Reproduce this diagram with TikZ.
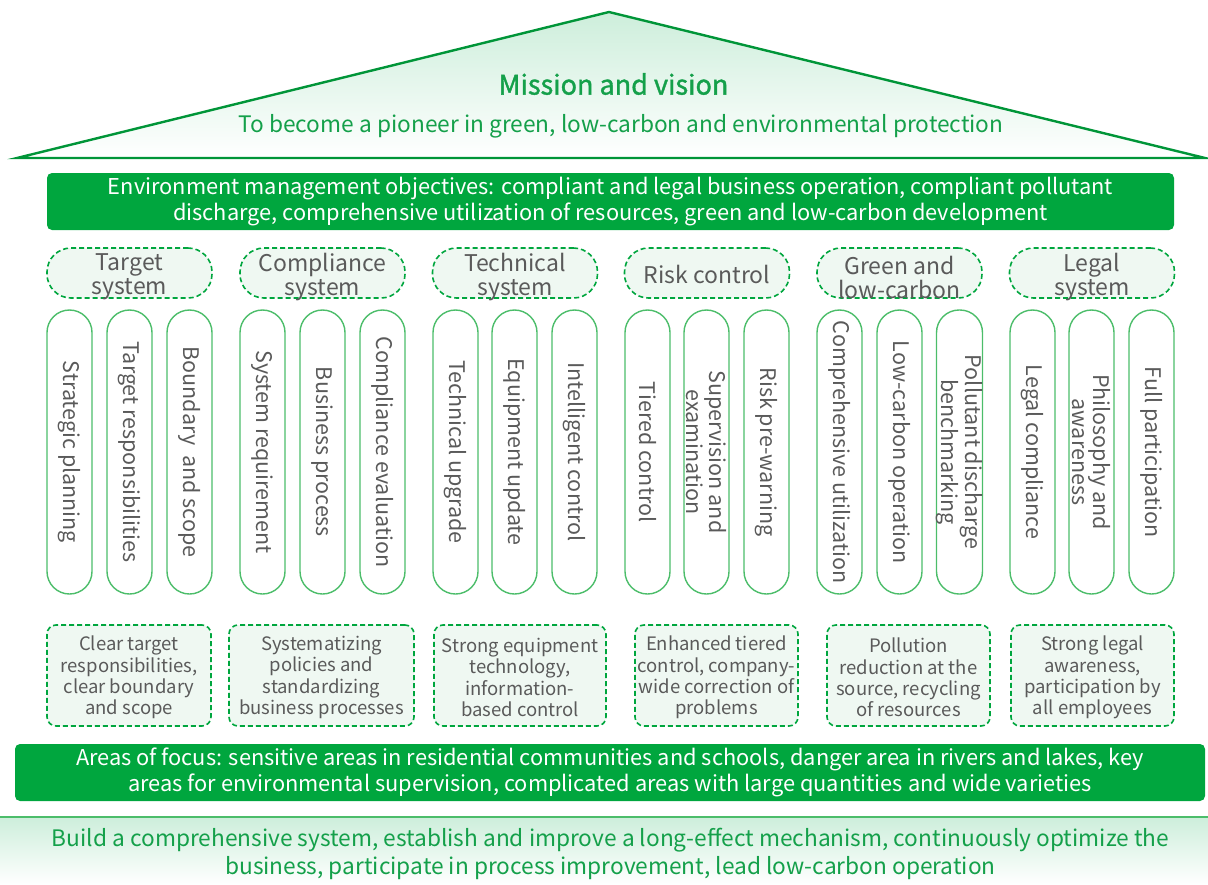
\documentclass[tikz,border=0pt]{standalone}
\usepackage{fontspec}
\setmainfont{Noto Sans CJK SC}
\definecolor{dgreen}{HTML}{00A63E}
\definecolor{lgreen}{HTML}{4CBD6A}
\definecolor{tgreen}{HTML}{14A04A}
\definecolor{pale}{HTML}{EFF8F2}
\definecolor{roof}{HTML}{CDEEDB}
\definecolor{gtext}{HTML}{5A5A5A}
\begin{document}
\begin{tikzpicture}[x=1pt,y=-1pt,
  banner/.style={fill=dgreen, rounded corners=5pt, text=white, align=center, inner sep=0pt,
     font=\fontsize{21.8}{26.5}\selectfont},
  header/.style={draw=dgreen, fill=pale, line width=1.6pt, dash pattern=on 5pt off 3pt,
     rounded corners=24pt, minimum width=165pt, minimum height=50pt, inner sep=0pt},
  htext/.style={text=gtext, align=center, inner sep=0pt, font=\fontsize{23}{24}\selectfont},
  pillar/.style={draw=lgreen, line width=1.4pt, rounded corners=22.5pt, rotate=-90,
     minimum width=284pt, minimum height=45pt, inner sep=0pt, text=gtext, align=center,
     font=\fontsize{21.5}{21}\selectfont},
  note/.style={draw=dgreen, fill=pale, line width=1.6pt, dash pattern=on 5pt off 3pt,
     rounded corners=9pt, minimum height=101pt, inner sep=0pt},
  ntext/.style={text=gtext, align=center, inner sep=0pt, font=\fontsize{18.5}{21.4}\selectfont},
  green text/.style={text=tgreen, align=center, inner sep=0pt}]
\useasboundingbox (0,0) rectangle (1208,884);
% roof
\shade[top color=roof, bottom color=white] (17,158) -- (609,12) -- (1205,158) -- cycle;
\draw[draw=dgreen!90!black, line width=2.4pt, line join=miter] (17,158) -- (609,12) -- (1205,158) -- cycle;
\node[green text, font=\fontsize{27}{30}\selectfont\addfontfeature{FakeBold=1.3}] (mission) at (613.5,84) {Mission and vision};
\node[green text, font=\fontsize{22.7}{26}\selectfont] (vision) at (621,126) {To become a pioneer in green, low-carbon and environmental protection};
% top banner
\node[banner, minimum width=1127pt, minimum height=57pt] (obj) at (610.5,201.5)
  {Environment management objectives: compliant and legal business operation, compliant pollutant\\discharge, comprehensive utilization of resources, green and low-carbon development};
% headers
\node[header] (h1) at (129.5,273) {};
\node[header] (h2) at (322.5,273) {};
\node[header] (h3) at (515,273) {};
\node[header] (h4) at (707,273) {};
\node[header] (h5) at (899.5,273) {};
\node[header] (h6) at (1092,273) {};
\node[htext] (h1t) at ([yshift=-4pt]h1.center) {Target\\system};
\node[htext] (h2t) at ([yshift=-4pt]h2.center) {Compliance\\system};
\node[htext] (h3t) at ([yshift=-4pt]h3.center) {Technical\\system};
\node[htext] (h4t) at ([yshift=-1pt]h4.center) {Risk control};
\node[htext] (h5t) at ([yshift=-4pt]h5.center) {Green and\\low-carbon};
\node[htext] (h6t) at ([yshift=-4pt]h6.center) {Legal\\system};
% pillars
\node[pillar] (p11) at (69.5,452) {Strategic planning};
\node[pillar] (p12) at (129.5,452) {Target responsibilities};
\node[pillar] (p13) at (189.5,452) {Boundary \ and scope};
\node[pillar] (p21) at (262.5,452) {System requirement};
\node[pillar] (p22) at (322.5,452) {Business process};
\node[pillar] (p23) at (382.5,452) {Compliance evaluation};
\node[pillar] (p31) at (455.5,452) {Technical upgrade};
\node[pillar] (p32) at (514.5,452) {Equipment update};
\node[pillar] (p33) at (574.5,452) {Intelligent control};
\node[pillar] (p41) at (647.5,452) {Tiered control};
\node[pillar] (p42) at (706.5,452) {Supervision and\\examination};
\node[pillar] (p43) at (766.5,452) {Risk pre-warning};
\node[pillar] (p51) at (839.5,452) {Comprehensive utilization};
\node[pillar] (p52) at (899.5,452) {Low-carbon operation};
\node[pillar] (p53) at (959.5,452) {Pollutant discharge\\benchmarking};
\node[pillar] (p61) at (1032.5,452) {Legal compliance};
\node[pillar] (p62) at (1091.5,452) {Philosophy and\\awareness};
\node[pillar] (p63) at (1151.5,452) {Full participation};
% notes
\node[note, minimum width=164pt] (n1) at (129,675.5) {};
\node[note, minimum width=185pt] (n2) at (321.5,675.5) {};
\node[note, minimum width=172pt] (n3) at (520,675.5) {};
\node[note, minimum width=163pt] (n4) at (716.5,675.5) {};
\node[note, minimum width=163pt] (n5) at (908.5,675.5) {};
\node[note, minimum width=163pt] (n6) at (1092.5,675.5) {};
\node[ntext] (n1t) at ([yshift=-2pt]n1.center) {Clear target\\responsibilities,\\clear boundary\\and scope};
\node[ntext] (n2t) at ([yshift=-2pt]n2.center) {Systematizing\\policies and\\standardizing\\business processes};
\node[ntext] (n3t) at ([yshift=-2pt]n3.center) {Strong equipment\\technology,\\information-\\based control};
\node[ntext] (n4t) at ([yshift=-2pt]n4.center) {Enhanced tiered\\control, company-\\wide correction of\\problems};
\node[ntext] (n5t) at ([yshift=-2pt]n5.center) {Pollution\\reduction at the\\source, recycling\\of resources};
\node[ntext] (n6t) at ([yshift=-2pt]n6.center) {Strong legal\\awareness,\\participation by\\all employees};
% areas banner
\node[banner, minimum width=1190pt, minimum height=57pt] (areas) at (610,772.5)
  {Areas of focus: sensitive areas in residential communities and schools, danger area in rivers and lakes, key\\areas for environmental supervision, complicated areas with large quantities and wide varieties};
% base
\shade[top color=roof, bottom color=white] (0,817) rectangle (1208,884);
\draw[draw=lgreen, line width=2.2pt] (0,817) -- (1208,817);
\node[green text, font=\fontsize{22.7}{28}\selectfont] (base) at (610.5,854)
  {Build a comprehensive system, establish and improve a long-effect mechanism, continuously optimize the\\business, participate in process improvement, lead low-carbon operation};
\end{tikzpicture}
\end{document}
